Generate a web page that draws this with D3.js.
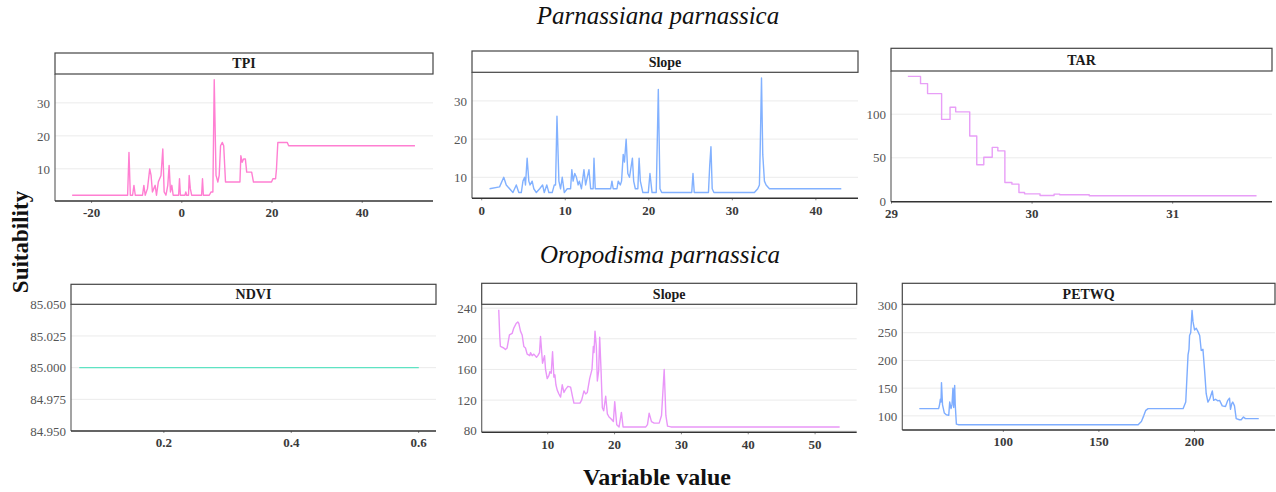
<!DOCTYPE html>
<html><head><meta charset="utf-8">
<script src="https://cdn.jsdelivr.net/npm/d3@7"></script>
<style>
html,body{margin:0;padding:0;background:#fff;}
svg{display:block;}
svg text{font-family:"Liberation Serif","Times New Roman",serif;}
</style></head>
<body>
<svg id="chart" width="1276" height="492"></svg>
<script>
// ---------- DATA ----------
const speciesTitles = ["Parnassiana parnassica", "Oropodisma parnassica"];
const yAxisTitle = "Suitability";
const xAxisTitle = "Variable value";
const panelNames = ["TPI", "Slope", "TAR", "NDVI", "Slope", "PETWQ"];

const tpiSeries = [[-24.2,2],[-11.9,2],[-11.6,15],[-11.3,2],[-10.8,2],[-10.5,5],[-10.2,2],[-8.6,2],[-8.3,5],[-8.0,2],[-7.5,4],[-7.0,10],[-6.7,8],[-6.4,3],[-6.1,4],[-5.8,5],[-5.5,2],[-5.1,6],[-4.8,7],[-4.5,8],[-4.1,16],[-3.8,3],[-3.4,2],[-3.0,5],[-2.7,11],[-2.4,3],[-2.1,5],[-1.8,2],[-0.6,2],[-0.4,7],[-0.2,2],[0.8,2],[1.0,3],[1.2,2],[1.6,2],[1.75,8],[2.0,4],[2.3,2],[4.5,2],[4.7,7],[4.9,2],[6.2,2],[6.6,3],[7.0,3],[7.3,37],[7.7,8],[8.1,6],[8.4,8],[8.7,17],[9.1,18],[9.4,17],[9.8,6],[13.0,6],[13.2,14],[13.5,12],[13.8,13],[14.2,13],[14.5,9],[15.6,9],[16.0,6],[20.0,6],[20.3,7],[20.9,7],[21.1,10],[21.4,18],[23.5,18],[23.8,17],[51.8,17]];

const slopeTopSeries = [[1.0,7],[2.2,7.5],[2.7,10],[3.0,8],[3.4,7],[3.8,6],[4.2,8],[4.5,6],[4.8,6],[5.0,9],[5.2,10],[5.3,8],[5.5,15],[5.7,9],[5.85,8],[6.1,9],[6.3,7],[6.6,6],[7.0,7],[7.35,8],[7.55,6],[7.85,8],[8.1,6],[8.5,6],[8.75,8],[8.9,8],[9.07,26],[9.3,9],[9.5,7],[9.7,10],[9.95,6],[10.3,7],[10.7,7],[10.85,12],[11.0,9],[11.2,11],[11.4,10],[11.6,8],[11.75,9],[12.0,7],[12.3,12],[12.5,8],[12.9,12],[13.1,7],[13.4,7],[13.5,15],[13.65,7],[15.5,7],[15.65,9],[15.8,7],[16.25,7],[16.4,9],[16.65,8],[16.8,9],[17.0,16],[17.15,14],[17.35,20],[17.55,11],[17.75,10],[18.1,15],[18.25,9],[18.45,7],[18.75,7],[18.9,15],[19.05,9],[19.35,6],[20.0,6],[20.2,11],[20.45,6],[20.95,6],[21.2,33],[21.4,7],[21.6,6],[25.2,6],[25.35,11],[25.5,6],[27.2,6],[27.35,13],[27.5,18],[27.65,7],[27.85,6],[32.7,6],[33.1,7],[33.3,8],[33.4,18],[33.55,36],[33.7,16],[33.9,9],[34.1,8],[34.5,7],[43.1,7]];

const tarSeries = [[29.12,143.3],[29.21,135],[29.26,123.6],[29.36,94],[29.42,108],[29.46,102.7],[29.56,75],[29.61,42],[29.66,50.6],[29.72,62],[29.76,58],[29.81,21.7],[29.86,19.8],[29.91,10.3],[29.95,8.7],[30.06,6.8],[30.16,8.4],[30.2,7.6],[30.41,6.5],[31.6,6.5]];

const ndviSeries = [[0.068,85],[0.601,85]];

const slopeBottomSeries = [[2.75,238],[2.9,203],[3.0,190],[3.5,188],[3.75,186],[4.0,188],[4.35,205],[4.75,207],[5.0,214],[5.35,220],[5.6,222],[5.75,220],[6.0,210],[6.25,205],[6.5,190],[6.75,188],[7.0,180],[7.4,178],[7.5,182],[7.75,178],[8.0,180],[8.4,176],[8.6,178],[8.85,182],[9.0,203],[9.3,168],[9.6,178],[9.75,160],[10.0,148],[10.25,152],[10.4,157],[10.6,155],[10.8,183],[11.0,150],[11.15,153],[11.3,140],[11.5,133],[11.75,128],[12.0,124],[12.25,140],[12.5,130],[12.75,134],[13.1,138],[13.5,137],[13.8,124],[14.0,116],[14.9,116],[15.15,120],[15.5,132],[15.75,128],[16.0,130],[16.35,148],[16.7,160],[16.9,190],[17.0,182],[17.15,210],[17.35,190],[17.5,145],[17.7,158],[17.85,202],[18.05,160],[18.25,110],[18.45,106],[18.75,125],[19.0,102],[19.25,98],[19.5,96],[19.9,92],[20.1,118],[20.4,88],[20.75,85],[21.1,104],[21.35,85],[24.75,85],[25.0,88],[25.25,103],[25.6,92],[26.0,90],[26.75,90],[27.1,100],[27.5,160],[27.75,100],[28.0,86],[28.5,85],[53.75,85]];

const petwqSeries = [[56.3,113],[66.4,113],[66.9,120],[67.3,130],[67.65,125],[67.9,160],[68.45,120],[69.4,105],[70.4,102],[71.7,101],[72.2,125],[72.9,113],[73.4,120],[73.9,150],[74.3,115],[74.8,155],[75.1,120],[75.7,85],[76.9,84],[170.8,84],[172.5,90],[173.7,100],[174.8,110],[176.0,113],[194.3,113],[195.7,125],[196.9,210],[197.4,220],[197.7,245],[198.3,250],[199.0,290],[199.5,270],[200.3,255],[201.2,258],[202.1,252],[203.0,245],[203.8,218],[204.7,220],[205.6,180],[206.4,140],[207.3,125],[208.2,130],[209.6,145],[210.3,128],[211.3,130],[212.5,127],[213.4,128],[214.8,118],[216.5,117],[217.7,128],[218.6,132],[219.1,112],[219.8,122],[220.3,125],[221.2,118],[222.1,95],[223.8,93],[224.7,93],[225.9,98],[226.9,95],[233.9,95]];

// tick values
const tpiXTicks = [-20, 0, 20, 40];
const tpiYTicks = [10, 20, 30];
const slopeTopXTicks = [0, 10, 20, 30, 40];
const slopeTopYTicks = [10, 20, 30];
const tarXTicks = [29, 30, 31];
const tarYTicks = [0, 50, 100];
const ndviXTicks = [0.2, 0.4, 0.6];
const ndviYTicks = [84.95, 84.975, 85.0, 85.025, 85.05];
const slopeBottomXTicks = [10, 20, 30, 40, 50];
const slopeBottomYTicks = [80, 120, 160, 200, 240];
const petwqXTicks = [100, 150, 200];
const petwqYTicks = [100, 150, 200, 250, 300];

// ---------- LAYOUT / STYLE ----------
const intFmt = d => String(d);
const panels = [
  {name: panelNames[0], data: tpiSeries, xTicks: tpiXTicks, yTicks: tpiYTicks, xDom: [-28, 55.8], yDom: [0.25, 38.75],
   left: 55, right: 433, stripTop: 53, top: 74, bottom: 201, color: "#ff7fd2", curve: d3.curveLinear, yFmt: intFmt, xFmt: intFmt},
  {name: panelNames[1], data: slopeTopSeries, xTicks: slopeTopXTicks, yTicks: slopeTopYTicks, xDom: [-1.1, 45.1], yDom: [4.5, 37.5],
   left: 472, right: 858, stripTop: 51, top: 72.3, bottom: 198.3, color: "#82b1ff", curve: d3.curveLinear, yFmt: intFmt, xFmt: intFmt},
  {name: panelNames[2], data: tarSeries, xTicks: tarXTicks, yTicks: tarYTicks, xDom: [29.0, 31.71], yDom: [-0.3, 149.5],
   left: 891, right: 1272, stripTop: 48.3, top: 71, bottom: 201.7, color: "#e89ef7", curve: d3.curveStepAfter, yFmt: intFmt, xFmt: intFmt},
  {name: panelNames[3], data: ndviSeries, xTicks: ndviXTicks, yTicks: ndviYTicks, xDom: [0.055, 0.628], yDom: [84.95, 85.05],
   left: 71, right: 436, stripTop: 284.3, top: 304.3, bottom: 431, color: "#5fe3c3", curve: d3.curveLinear, yFmt: d3.format(".3f"), xFmt: d3.format(".1f")},
  {name: panelNames[4], data: slopeBottomSeries, xTicks: slopeBottomXTicks, yTicks: slopeBottomYTicks, xDom: [0.2, 56.3], yDom: [78, 245],
   left: 481.7, right: 856.7, stripTop: 283.3, top: 304.3, bottom: 432.3, color: "#e996f8", curve: d3.curveLinear, yFmt: intFmt, xFmt: intFmt},
  {name: panelNames[5], data: petwqSeries, xTicks: petwqXTicks, yTicks: petwqYTicks, xDom: [47.4, 242.4], yDom: [74.5, 301.3],
   left: 902.3, right: 1275, stripTop: 283.3, top: 304.3, bottom: 430, color: "#7eadff", curve: d3.curveLinear, yFmt: intFmt, xFmt: intFmt}
];

const serif = "'Liberation Serif', 'Times New Roman', serif";
const svg = d3.select("#chart");

panels.forEach(p => {
  const x = d3.scaleLinear().domain(p.xDom).range([p.left, p.right]);
  const y = d3.scaleLinear().domain(p.yDom).range([p.bottom, p.top]);
  const g = svg.append("g");

  // gridlines
  g.selectAll("line.grid").data(p.yTicks).enter().append("line")
    .attr("x1", p.left).attr("x2", p.right)
    .attr("y1", d => y(d)).attr("y2", d => y(d))
    .attr("stroke", "#ebebeb").attr("stroke-width", 1);

  // line
  const line = d3.line().x(d => x(d[0])).y(d => y(d[1])).curve(p.curve);
  g.append("path").datum(p.data).attr("d", line)
    .attr("fill", "none").attr("stroke", p.color).attr("stroke-width", 1.4)
    .attr("stroke-linejoin", "round");

  // axes
  const xAxis = d3.axisBottom(x).tickValues(p.xTicks).tickFormat(p.xFmt).tickSize(2).tickPadding(5);
  const yAxis = d3.axisLeft(y).tickValues(p.yTicks).tickFormat(p.yFmt).tickSize(0).tickPadding(5);

  const gx = g.append("g").attr("transform", `translate(0,${p.bottom})`).call(xAxis)
    .attr("font-family", null).style("font-family", serif);
  gx.select(".domain").remove();
  gx.selectAll(".tick line").attr("stroke", "#888");
  gx.selectAll("text").style("font-family", serif).style("font-size", "13px").style("font-weight", "bold").attr("fill", "#3a3a3a");

  const gy = g.append("g").attr("transform", `translate(${p.left},0)`).call(yAxis)
    .attr("font-family", null).style("font-family", serif);
  gy.select(".domain").remove();
  gy.selectAll("text").style("font-family", serif).style("font-size", "13px").attr("fill", "#555");

  g.append("line").attr("x1", p.left).attr("x2", p.left).attr("y1", p.top).attr("y2", p.bottom)
    .attr("stroke", "#666").attr("stroke-width", 1.2);
  g.append("line").attr("x1", p.left).attr("x2", p.right).attr("y1", p.bottom).attr("y2", p.bottom)
    .attr("stroke", "#333").attr("stroke-width", 1.4);

  // strip
  g.append("rect").attr("x", p.left).attr("y", p.stripTop)
    .attr("width", p.right - p.left).attr("height", p.top - p.stripTop)
    .attr("fill", "#fff").attr("stroke", "#444").attr("stroke-width", 1.2);
  g.append("text").attr("x", (p.left + p.right) / 2).attr("y", (p.stripTop + p.top) / 2)
    .attr("dy", "0.35em").attr("text-anchor", "middle")
    .style("font-family", serif).attr("font-weight", "bold").attr("font-size", 14).attr("fill", "#1a1a1a")
    .text(p.name);
});

// species titles
svg.append("text").attr("x", 658).attr("y", 24).attr("text-anchor", "middle")
  .style("font-family", serif).attr("font-style", "italic").attr("font-size", 25).attr("fill", "#111")
  .text(speciesTitles[0]);
svg.append("text").attr("x", 660).attr("y", 263).attr("text-anchor", "middle")
  .style("font-family", serif).attr("font-style", "italic").attr("font-size", 25).attr("fill", "#111")
  .text(speciesTitles[1]);

// axis titles
svg.append("text").attr("transform", "translate(28,242) rotate(-90)").attr("text-anchor", "middle")
  .style("font-family", serif).attr("font-weight", "bold").attr("font-size", 23).attr("fill", "#111")
  .text(yAxisTitle);
svg.append("text").attr("x", 657).attr("y", 485).attr("text-anchor", "middle")
  .style("font-family", serif).attr("font-weight", "bold").attr("font-size", 24).attr("fill", "#111")
  .text(xAxisTitle);
</script>
</body></html>
